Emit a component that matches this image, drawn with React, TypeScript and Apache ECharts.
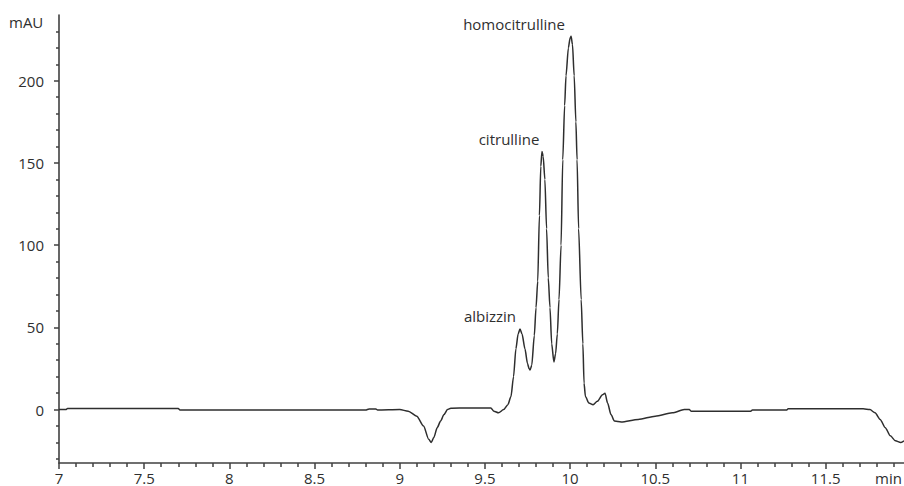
import React, { useEffect, useRef } from "react";
import * as echarts from "echarts";

// Retention time (min) and absorbance (mAU)
const timeMin = [
  7.0, 7.04, 7.05, 7.7, 7.71, 8.8, 8.82, 8.86, 8.87, 9.0, 9.05, 9.1, 9.14, 9.17, 9.185, 9.2, 9.22, 9.24, 9.26, 9.28,
  9.3, 9.4, 9.5, 9.535, 9.553, 9.58, 9.61, 9.635, 9.653, 9.668, 9.682, 9.695, 9.706, 9.718, 9.735, 9.75, 9.759, 9.765,
  9.775, 9.79, 9.8, 9.81, 9.82, 9.828, 9.835, 9.842, 9.852, 9.862, 9.872, 9.882, 9.892, 9.905,
  9.915, 9.925, 9.935, 9.947, 9.957, 9.968, 9.976, 9.99, 10.0, 10.006, 10.014, 10.024, 10.034, 10.041, 10.05, 10.065,
  10.075, 10.082, 10.09, 10.11, 10.135, 10.16, 10.19, 10.205, 10.22, 10.24, 10.26, 10.3, 10.4, 10.5, 10.6, 10.67,
  10.7, 10.71, 11.06, 11.07, 11.27, 11.28, 11.72, 11.76, 11.79, 11.82, 11.85, 11.88, 11.91, 11.94, 11.96
];
const absorbanceMAU = [
  0, 0, 0.6, 0.6, -0.3, -0.3, 0.4, 0.4, -0.3, 0, -1, -4, -10, -18, -20, -17, -11, -7, -3, 0,
  0.8, 1, 1, 1, -1, -2, 0, 3, 8, 20, 37, 46, 49, 46, 37, 28, 25, 24,
  27, 45, 62, 78, 118, 148, 157, 154, 140, 110, 80, 62, 40, 29,
  34, 46, 67, 100, 152, 185, 203, 220, 226, 227, 222, 203, 175, 152, 110, 67,
  40, 16, 8, 4, 3, 5, 9, 10, 4, -3, -7, -7.5, -6, -4, -2, 0,
  0, -1, -1, -0.3, -0.3, 0.5, 0.5, 0, -2, -6, -11, -16, -19, -20, -19
];

const xMajorTicks = [7, 7.5, 8, 8.5, 9, 9.5, 10, 10.5, 11, 11.5];
const yMajorTicks = [0, 50, 100, 150, 200];
const xMinorTicks = [
  7.1, 7.2, 7.3, 7.4, 7.6, 7.7, 7.8, 7.9, 8.1, 8.2, 8.3, 8.4, 8.6, 8.7, 8.8, 8.9,
  9.1, 9.2, 9.3, 9.4, 9.6, 9.7, 9.8, 9.9, 10.1, 10.2, 10.3, 10.4, 10.6, 10.7, 10.8, 10.9,
  11.1, 11.2, 11.3, 11.4, 11.6, 11.7, 11.8, 11.9
];
const yMinorTicks = [
  -30, -20, -10, 10, 20, 30, 40, 60, 70, 80, 90, 110, 120, 130, 140, 160, 170, 180, 190, 210, 220, 230
];

const peakNames = ["homocitrulline", "citrulline", "albizzin"];

const FONT = "'Open Sans', sans-serif";
const INK = "#2f2f2f";
const AXIS = "#404040";

export default function App() {
  const ref = useRef<HTMLDivElement>(null);
  useEffect(() => {
    if (!ref.current) return;
    const chart = echarts.init(ref.current, null, { renderer: "svg" });
    const data = timeMin.map((t, i) => [t, absorbanceMAU[i]]);
    const tickLine = { color: AXIS, width: 1.5 };
    chart.setOption({
      animation: false,
      backgroundColor: "#ffffff",
      grid: { left: 59, right: 0, top: 15, bottom: 23 },
      xAxis: [
        {
          type: "value",
          min: 7,
          max: 11.96,
          axisLine: { show: true, onZero: false, lineStyle: { color: AXIS, width: 1.6 } },
          axisTick: { show: true, customValues: xMajorTicks, length: 6, lineStyle: tickLine },
          axisLabel: {
            customValues: xMajorTicks,
            formatter: (v: number) => String(v),
            margin: 7,
            fontSize: 15,
            fontFamily: FONT,
            color: INK,
          },
          splitLine: { show: false },
        },
        {
          type: "value",
          min: 7,
          max: 11.96,
          position: "bottom",
          axisLine: { show: false, onZero: false },
          axisTick: { show: true, customValues: xMinorTicks, length: 4, lineStyle: tickLine },
          axisLabel: { show: false },
          splitLine: { show: false },
        },
      ],
      yAxis: [
        {
          type: "value",
          min: -32.5,
          max: 240,
          axisLine: { show: true, onZero: false, lineStyle: { color: AXIS, width: 1.6 } },
          axisTick: { show: true, customValues: yMajorTicks, length: 5, lineStyle: tickLine },
          axisLabel: {
            customValues: yMajorTicks,
            margin: 15,
            fontSize: 15,
            fontFamily: FONT,
            color: INK,
          },
          splitLine: { show: false },
        },
        {
          type: "value",
          min: -32.5,
          max: 240,
          position: "left",
          axisLine: { show: false, onZero: false },
          axisTick: { show: true, customValues: yMinorTicks, length: 3, lineStyle: tickLine },
          axisLabel: { show: false },
          splitLine: { show: false },
        },
      ],
      graphic: [
        { type: "text", left: 9, top: 14, style: { text: "mAU", font: `15px ${FONT}`, fill: INK } },
        { type: "text", left: 875, top: 470, style: { text: "min", font: `15px ${FONT}`, fill: INK } },
        { type: "text", x: 514, y: 24, style: { text: peakNames[0], font: `15px ${FONT}`, fill: INK, align: "center", verticalAlign: "middle" } },
        { type: "text", x: 509, y: 139, style: { text: peakNames[1], font: `15px ${FONT}`, fill: INK, align: "center", verticalAlign: "middle" } },
        { type: "text", x: 490, y: 316, style: { text: peakNames[2], font: `15px ${FONT}`, fill: INK, align: "center", verticalAlign: "middle" } },
      ],
      series: [
        {
          type: "line",
          xAxisIndex: 0,
          yAxisIndex: 0,
          data,
          showSymbol: false,
          smooth: 0.25,
          smoothMonotone: "x",
          lineStyle: { color: "#2e2e2e", width: 1.5 },
        },
      ],
    });
    return () => chart.dispose();
  }, []);
  return <div ref={ref} style={{ position: "absolute", left: 0, top: 0, width: 904, height: 486 }} />;
}
